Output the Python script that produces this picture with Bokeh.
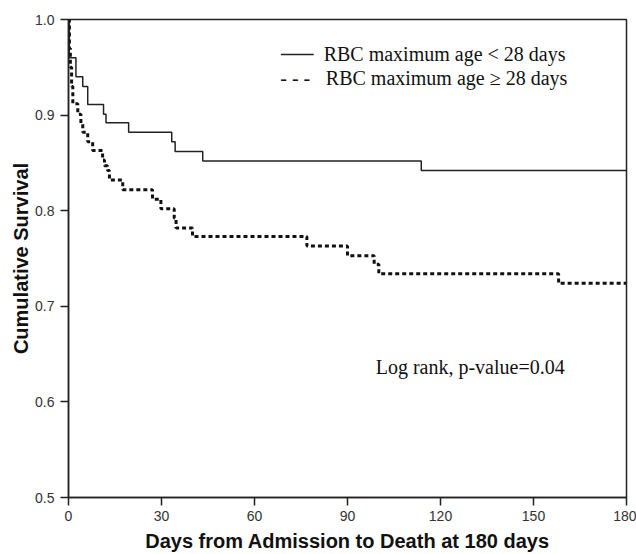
from bokeh.plotting import figure
from bokeh.models import Range1d, Label, FixedTicker
from bokeh.embed import file_html
from bokeh.resources import INLINE

# ---- data ----
x_ticks = [0, 30, 60, 90, 120, 150, 180]
y_ticks = [0.5, 0.6, 0.7, 0.8, 0.9, 1.0]
y_tick_labels = ["0.5", "0.6", "0.7", "0.8", "0.9", "1.0"]

young_days = [0, 0.26, 2.4, 4.6, 6.2, 11.3, 12.1, 19.4, 33.3, 34.4, 43.3, 113.8, 180]
young_surv = [1.0, 0.960, 0.940, 0.930, 0.911, 0.901, 0.892, 0.882, 0.872, 0.862, 0.852, 0.842, 0.842]

old_days = [0, 0.3, 0.6, 1.0, 1.4, 3.0, 4.0, 4.6, 6.2, 7.8, 11.0, 11.6, 12.6, 13.2,
            17.5, 27.1, 29.8, 34.1, 34.7, 40.0, 76.9, 90.0, 98.6, 100.1, 158.1, 180]
old_surv = [1.0, 0.97, 0.95, 0.93, 0.912, 0.901, 0.891, 0.882, 0.872, 0.863, 0.853, 0.847, 0.842, 0.832,
            0.822, 0.812, 0.802, 0.792, 0.782, 0.773, 0.763, 0.753, 0.744, 0.734, 0.724, 0.724]

legend_young = "RBC maximum age < 28 days"
legend_old = "RBC maximum age \u2265 28 days"
note = "Log rank, p-value=0.04"

p = figure(width=636, height=554, x_range=Range1d(0, 180), y_range=Range1d(0.5, 1.0),
           output_backend="svg", toolbar_location=None,
           min_border_left=68, min_border_right=10, min_border_top=19, min_border_bottom=57)
p.background_fill_color = "white"
p.border_fill_color = "white"
p.grid.visible = False
p.outline_line_color = "#222222"
p.outline_line_width = 1.5

for ax in (p.xaxis[0], p.yaxis[0]):
    ax.axis_line_color = "#222222"
    ax.axis_line_width = 1.5
    ax.major_tick_line_color = "#222222"
    ax.major_tick_line_width = 1.5
    ax.major_tick_in = 0
    ax.major_tick_out = 8
    ax.minor_tick_line_color = None
    ax.major_label_text_font = "Liberation Sans"
    ax.major_label_text_font_size = "14px"
    ax.major_label_text_color = "#333333"
    ax.axis_label_text_font = "Liberation Sans"
    ax.axis_label_text_font_size = "20px"
    ax.axis_label_text_font_style = "bold"
    ax.axis_label_text_color = "#111111"

p.xaxis.ticker = FixedTicker(ticks=x_ticks)
p.yaxis.ticker = FixedTicker(ticks=y_ticks)
p.yaxis.major_label_overrides = {v: s for v, s in zip(y_ticks, y_tick_labels)}
p.xaxis.axis_label = "Days from Admission to Death at 180 days"
p.yaxis.axis_label = "Cumulative Survival"
p.xaxis.major_label_standoff = 5
p.yaxis.major_label_standoff = 6
p.xaxis.axis_label_standoff = 6
p.yaxis.axis_label_standoff = 0

p.step(young_days, young_surv, mode="after", line_color="#222222", line_width=1.5)
p.step(old_days, old_surv, mode="after", line_color="#111111", line_width=3, line_dash="4 3")

# legend (drawn as in the original: line sample + serif text)
p.segment(x0=[68.5], y0=[0.9635], x1=[79.1], y1=[0.9635], line_color="#222222", line_width=1.5)
p.add_layout(Label(x=68.3, y=0.9383, text="- - -", text_font="Liberation Serif",
                   text_font_size="20px", text_color="#111111", text_baseline="alphabetic"))
p.add_layout(Label(x=82.3, y=0.9644, text=legend_young, text_font="Liberation Serif",
                   text_font_size="20px", text_color="#111111", text_baseline="alphabetic"))
p.add_layout(Label(x=83.0, y=0.9383, text=legend_old, text_font="Liberation Serif",
                   text_font_size="20px", text_color="#111111", text_baseline="alphabetic"))
p.add_layout(Label(x=99.1, y=0.637, text=note, text_font="Liberation Serif",
                   text_font_size="20px", text_color="#111111", text_baseline="alphabetic"))

open("out.html", "w").write(file_html(p, INLINE))
